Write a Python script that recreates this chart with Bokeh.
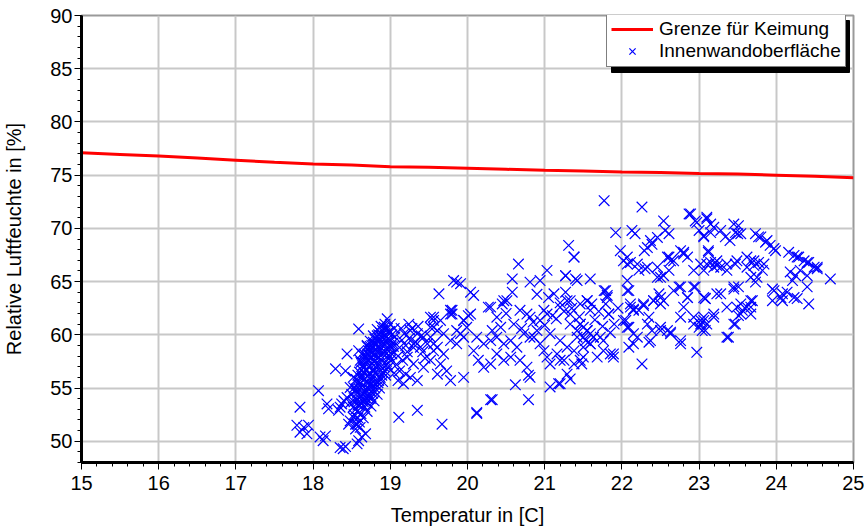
from bokeh.plotting import figure
from bokeh.models import SingleIntervalTicker, Range1d, Legend, LegendItem, BoxAnnotation
from bokeh.embed import file_html
from bokeh.resources import INLINE

# ---- data ----
limit_temp = [15.0, 15.5, 16.0, 16.5, 17.0, 17.5, 18.0, 18.5, 19.0, 19.5, 20.0,
              20.5, 21.0, 21.5, 22.0, 22.5, 23.0, 23.5, 24.0, 24.5, 25.0]
limit_rh = [77.1, 76.95, 76.8, 76.6, 76.4, 76.2, 76.05, 75.95, 75.8, 75.75, 75.65,
            75.55, 75.45, 75.4, 75.3, 75.25, 75.15, 75.1, 75.0, 74.9, 74.75]

# (temperature, relative humidity) of the inner wall surface
surface_tail = [
    (17.83, 53.2), (18.07, 54.75), (17.79, 51.5), (17.88, 51.3), (17.83, 50.85), (17.92, 50.7),
    (17.94, 51.5), (18.09, 50.4), (18.13, 50.05), (18.16, 50.5), (18.35, 49.4), (18.39, 49.3),
    (18.42, 49.5), (18.57, 49.75), (18.59, 50.05), (18.68, 50.7), (18.63, 50.4), (18.18, 53.5),
    (18.2, 53.05), (18.35, 53.2), (18.33, 52.9), (18.44, 58.2), (18.29, 56.8), (18.42, 56.6),
    (18.48, 51.9), (18.52, 52.25), (18.57, 51.6), (18.61, 51.3), (18.55, 51.15), (18.46, 51.6),
    (18.4, 53.8), (18.44, 54.1), (18.37, 53.5), (18.52, 56.0), (18.48, 55.05), (18.55, 54.75),
    (18.59, 58.5), (18.63, 58.2), (18.61, 57.6), (18.59, 60.55), (18.7, 59.0), (18.96, 61.5),
]

surface_core = [
    (18.55, 53.0), (18.6, 53.4), (18.58, 53.9), (18.62, 54.3), (18.65, 53.7), (18.68, 54.6),
    (18.6, 54.9), (18.64, 55.2), (18.7, 55.0), (18.72, 55.5), (18.66, 55.8), (18.7, 56.1),
    (18.75, 55.9), (18.74, 56.4), (18.68, 56.7), (18.72, 57.0), (18.78, 56.8), (18.77, 57.3),
    (18.7, 57.6), (18.75, 57.8), (18.8, 57.6), (18.82, 58.0), (18.76, 58.3), (18.8, 58.6),
    (18.85, 58.4), (18.86, 58.9), (18.8, 59.1), (18.84, 59.4), (18.9, 59.2), (18.92, 59.6),
    (18.88, 59.9), (18.95, 59.8), (18.97, 60.2), (18.93, 60.0), (19.0, 59.5), (18.98, 59.0),
    (18.94, 58.7), (18.9, 58.2), (18.88, 57.7), (18.85, 57.3), (18.82, 56.9), (18.8, 56.4),
    (18.78, 55.9), (18.76, 55.4), (18.73, 54.9), (18.7, 54.3), (18.66, 53.9), (18.63, 53.5),
    (18.57, 52.8), (18.52, 53.2), (18.54, 54.0), (18.57, 54.5), (18.6, 55.6), (18.63, 56.1),
    (18.66, 56.4), (18.64, 57.1), (18.68, 57.9), (18.72, 58.5), (18.76, 59.0), (18.8, 59.6),
    (18.85, 60.0), (18.9, 60.4), (18.96, 60.6), (19.02, 60.0), (19.03, 59.2), (19.0, 58.6),
    (18.98, 58.1), (18.95, 57.5), (18.92, 57.0), (18.9, 56.5), (18.87, 56.0), (18.84, 55.5),
    (18.8, 55.0), (18.77, 54.5), (18.74, 54.0), (18.7, 53.6), (18.67, 53.2), (18.62, 52.6),
    (18.58, 52.2), (18.53, 52.5), (18.48, 53.6), (18.5, 54.4), (18.53, 55.0), (18.56, 55.8),
    (18.6, 56.5), (18.62, 57.4), (18.66, 58.2), (18.7, 58.9), (18.74, 59.4), (18.78, 59.9),
    (18.83, 60.5), (18.88, 60.8), (18.93, 61.0), (19.0, 61.0), (19.05, 60.6), (19.06, 59.8),
    (19.04, 58.9), (19.02, 58.2), (19.0, 57.6), (18.97, 56.9), (18.94, 56.2), (18.9, 55.6),
    (18.86, 55.0), (18.83, 54.4), (18.79, 53.8), (18.75, 53.3), (18.7, 52.8), (18.65, 52.2),
    (18.6, 51.8), (18.55, 51.6),
    (18.58, 56.2), (18.62, 55.9), (18.65, 56.9), (18.68, 57.3), (18.72, 57.6), (18.75, 58.6),
    (18.78, 58.1), (18.82, 59.1), (18.86, 59.6), (18.9, 59.0), (18.93, 58.4), (18.96, 59.3),
    (18.99, 60.3), (18.87, 58.6), (18.84, 57.9), (18.81, 57.3), (18.79, 56.6), (18.76, 56.1),
    (18.73, 55.3), (18.69, 54.8), (18.65, 54.4), (18.62, 53.9), (18.58, 53.4), (18.53, 53.7),
    (18.56, 54.9), (18.59, 55.3), (18.63, 56.7), (18.67, 57.6), (18.71, 58.2), (18.74, 58.9),
    (18.78, 59.3), (18.83, 59.9), (18.87, 60.2), (18.92, 60.7), (18.97, 59.6), (19.01, 58.9),
    (18.99, 57.9), (18.96, 57.2), (18.93, 56.6), (18.89, 56.2), (18.85, 55.7), (18.81, 55.3),
    (18.78, 54.8), (18.74, 54.3), (18.71, 53.9),
]

surface_mid = [
    (19.08, 57.2), (19.1, 58.0), (19.12, 58.8), (19.15, 59.5), (19.18, 60.1), (19.2, 59.0),
    (19.22, 58.4), (19.25, 59.7), (19.28, 60.6), (19.3, 58.8), (19.33, 59.3), (19.12, 56.6),
    (19.16, 57.6), (19.2, 56.3), (19.1, 55.7), (19.05, 56.4), (19.14, 60.6), (19.24, 61.0),
    (19.36, 60.8), (19.4, 59.9), (19.42, 58.4), (19.45, 57.8),
    (19.26, 60.4), (19.35, 60.1), (19.43, 59.77), (19.52, 60.7), (19.56, 61.35), (19.61, 60.4),
    (19.3, 59.15), (19.39, 58.83), (19.48, 59.15), (19.56, 58.5), (19.22, 57.9), (19.3, 57.26),
    (19.43, 56.95), (19.52, 57.6), (19.61, 56.3), (19.26, 56.0), (19.35, 55.7), (19.17, 55.4),
    (19.11, 52.25), (19.35, 52.9), (19.67, 51.6), (20.12, 52.7), (20.32, 53.9),
    (19.56, 61.65), (19.78, 61.95), (19.8, 62.3), (19.95, 61.35), (20.01, 61.8), (20.3, 62.6),
    (20.66, 66.65), (21.38, 67.3), (19.82, 65.1), (19.91, 64.8), (19.86, 64.95), (19.63, 63.85),
    (20.08, 63.7), (20.04, 64.0), (20.58, 65.25), (20.58, 64.0), (20.51, 63.2), (20.81, 64.95),
    (20.94, 65.1), (21.03, 66.05), (21.27, 65.55), (21.42, 65.1), (21.12, 63.85), (21.27, 64.0),
    (20.27, 62.6), (20.47, 63.2), (20.45, 62.9), (20.68, 62.3), (20.77, 61.95), (20.81, 61.65),
    (20.99, 62.3), (21.03, 61.95), (21.1, 61.8), (20.94, 61.35), (21.33, 63.2), (21.46, 62.9),
    (21.55, 63.2), (20.38, 61.65), (20.43, 60.7), (20.32, 60.4),
    (19.78, 62.3), (19.8, 61.95), (20.04, 61.95), (19.95, 61.35), (19.99, 60.7), (19.91, 60.1),
    (19.86, 60.4), (19.65, 61.35), (19.56, 60.7), (19.52, 61.65),
    (19.61, 58.83), (19.69, 58.2), (19.65, 57.26), (19.73, 56.6), (19.78, 55.7), (19.95, 56.0),
    (20.08, 58.5), (20.14, 57.6), (20.21, 56.95), (20.3, 57.26), (20.38, 58.2), (20.47, 57.6),
    (20.56, 57.9), (20.64, 58.83), (20.68, 57.6), (20.77, 56.95), (20.81, 56.0), (20.86, 59.77),
    (20.94, 59.15), (20.99, 58.5), (21.03, 57.9), (21.07, 57.26), (21.16, 58.2), (21.25, 57.6),
    (21.38, 58.5), (21.46, 57.6), (21.5, 59.77), (21.55, 60.4), (21.59, 59.15),
    (20.62, 55.3), (20.79, 56.2), (21.07, 55.1), (21.18, 55.4), (21.33, 55.85), (20.3, 53.9),
    (20.12, 52.6), (20.79, 53.9), (21.2, 55.4),
    (19.52, 59.77), (19.56, 59.15), (19.69, 60.1), (19.78, 59.45), (19.86, 59.15), (19.95, 59.77),
    (20.12, 59.77), (20.21, 59.15), (20.3, 59.45), (20.38, 59.77), (20.47, 59.15), (20.56, 59.45),
    (20.73, 60.1), (20.81, 59.77), (20.9, 60.4), (21.07, 60.1), (21.2, 59.45), (21.33, 61.0),
    (21.42, 60.4),
    (20.6, 61.0), (20.7, 60.6), (20.85, 61.2), (21.0, 60.9), (21.15, 61.5), (21.25, 62.2),
    (21.35, 62.5), (21.45, 61.7), (20.5, 62.0), (21.2, 63.0), (21.05, 63.5), (20.9, 63.8),
    (21.31, 68.4), (21.38, 67.3), (21.27, 65.55), (21.4, 65.25),
    (21.2, 62.6), (21.29, 63.2), (21.33, 61.95), (21.46, 61.0), (21.42, 59.77), (21.29, 58.83),
    (21.5, 58.83), (21.2, 57.6), (21.38, 57.26), (21.29, 56.3),
]

surface_right = [
    (21.77, 72.6), (22.26, 72.0), (21.92, 69.6), (22.13, 69.8), (22.17, 69.5), (21.98, 67.9),
    (22.07, 67.3), (22.11, 66.8), (22.37, 68.85), (22.46, 69.15), (22.54, 70.7), (22.56, 69.8),
    (22.61, 69.5), (22.29, 67.9), (22.33, 68.2), (22.39, 68.5), (22.22, 66.05), (22.3, 66.2),
    (22.46, 66.35), (22.5, 65.4), (22.54, 65.55), (22.61, 67.3), (22.63, 66.95), (22.61, 66.05),
    (22.07, 65.1), (22.09, 64.15), (21.59, 65.25), (21.79, 64.15), (21.81, 63.5), (21.55, 63.2),
    (21.61, 62.9), (21.59, 62.3), (21.83, 61.95), (21.79, 62.9), (22.11, 62.9), (22.15, 62.4),
    (22.22, 62.3), (22.28, 62.75), (22.35, 61.65), (22.41, 63.2), (22.48, 63.85), (22.5, 62.9),
    (22.54, 63.2), (22.05, 61.35), (22.09, 60.7), (22.15, 60.1), (22.33, 61.0), (22.39, 60.4),
    (22.5, 60.7), (22.59, 60.4), (22.63, 60.25), (22.09, 58.83), (22.15, 59.15), (22.35, 59.3),
    (22.26, 57.26), (22.76, 59.15), (22.74, 64.5), (22.85, 63.5), (22.8, 62.6), (22.76, 61.65),
    (22.95, 64.5), (23.08, 63.4), (22.97, 58.35), (22.93, 61.65), (23.02, 61.0), (23.08, 60.4),
    (23.0, 60.7), (23.06, 61.35),
    (22.87, 71.35), (22.95, 70.7), (23.0, 69.8), (23.06, 69.3), (23.1, 71.05), (23.15, 70.4),
    (22.76, 67.9), (22.8, 67.6), (22.85, 67.3), (22.93, 66.05), (23.06, 66.05), (23.12, 67.9),
    (23.19, 66.35), (23.23, 66.95),
    (21.46, 61.0), (21.5, 60.7), (21.55, 60.4), (21.59, 60.1), (21.63, 59.77), (21.53, 59.45),
    (21.59, 59.15), (21.72, 59.77), (21.76, 58.5), (21.85, 58.2), (21.89, 57.9), (21.68, 57.9),
    (21.5, 57.9), (21.48, 57.26),
    (23.1, 70.9), (23.19, 70.1), (23.28, 69.8), (23.06, 69.2), (23.15, 69.6), (23.34, 69.2),
    (23.4, 68.85), (23.47, 69.6), (23.51, 70.25), (23.54, 69.5), (23.73, 69.5), (23.77, 69.2),
    (23.86, 68.7), (23.92, 68.4), (23.97, 68.1), (23.99, 67.9), (24.16, 67.75), (24.23, 67.45),
    (24.29, 67.3), (24.36, 66.95), (24.42, 66.8), (24.53, 66.2), (24.7, 65.25),
    (23.12, 67.75), (23.1, 66.65), (23.21, 66.8), (23.28, 66.35), (23.36, 66.05), (23.47, 66.65),
    (23.62, 67.3), (23.67, 66.95), (23.71, 66.5), (23.77, 66.8), (23.82, 66.05), (23.67, 65.4),
    (23.73, 64.95), (24.18, 65.9), (24.25, 65.55), (24.31, 66.05), (24.4, 65.55), (24.49, 66.35),
    (24.21, 65.1), (24.4, 64.5), (23.95, 64.3), (24.08, 63.85), (24.14, 64.0), (24.27, 63.4),
    (23.95, 63.2), (24.08, 63.2), (24.42, 62.9), (23.28, 63.85), (23.45, 64.3), (23.51, 64.5),
    (23.08, 63.4), (23.36, 62.6), (23.49, 62.6), (23.56, 62.3), (23.62, 62.6), (23.69, 63.2),
    (23.67, 61.95), (23.51, 61.8), (23.47, 61.0), (23.06, 61.65), (23.1, 61.0), (23.04, 60.4),
    (23.19, 61.65), (23.38, 59.77),
    (22.89, 71.35), (22.97, 70.55), (23.45, 70.4), (23.5, 69.5), (23.8, 69.2), (23.88, 68.85),
    (24.27, 67.3), (24.4, 66.8), (24.53, 66.35),
    (22.02, 66.95), (22.07, 66.65), (22.2, 66.65), (22.33, 66.35), (22.46, 65.4), (22.59, 67.3),
    (22.67, 66.95), (22.8, 67.75), (23.02, 66.65), (23.15, 66.8), (23.23, 66.5), (23.36, 66.65),
    (23.49, 66.95), (23.62, 66.35), (23.71, 66.95), (23.84, 66.65), (23.75, 65.4),
    (22.07, 64.15), (22.11, 62.6), (22.15, 62.3), (22.28, 62.9), (22.41, 63.2), (22.5, 63.5),
    (22.67, 64.15), (22.76, 64.5), (22.85, 63.5), (22.93, 64.5), (23.06, 63.5), (23.23, 63.85),
    (23.45, 64.5), (23.54, 62.9), (23.67, 63.2), (23.97, 64.15), (24.06, 63.5), (24.23, 63.5),
    (22.02, 61.35), (22.07, 60.7), (22.2, 59.77), (22.37, 59.45), (22.5, 60.4), (22.63, 60.1),
    (22.76, 59.45), (22.93, 61.0), (23.02, 61.35), (23.19, 61.95), (23.36, 59.77), (23.45, 61.0),
    (23.54, 61.95), (23.67, 62.6),
    (21.65, 61.4), (21.7, 62.2), (21.75, 60.8), (21.85, 60.2), (21.9, 61.0), (21.95, 62.5),
    (21.77, 64.15), (21.81, 63.7), (21.83, 61.95), (21.63, 59.77), (21.76, 59.45), (21.89, 58.2),
]

FONT = "Liberation Sans"

points = surface_tail + surface_core + surface_mid + surface_right
surf_t = [pt[0] for pt in points]
surf_rh = [pt[1] for pt in points]

BORDER_L, BORDER_R, BORDER_T, BORDER_B = 81, 11, 15, 70
FIG_W, FIG_H = 864, 532
FRAME_H = FIG_H - BORDER_T - BORDER_B

p = figure(width=FIG_W, height=FIG_H, output_backend="svg", toolbar_location=None,
           x_range=Range1d(15, 25), y_range=Range1d(48, 90),
           min_border_left=BORDER_L, min_border_right=BORDER_R,
           min_border_top=BORDER_T, min_border_bottom=BORDER_B)
p.background_fill_color = "white"
p.border_fill_color = "white"
p.outline_line_color = "#9a9a9a"
p.outline_line_width = 2

line_r = p.line(limit_temp, limit_rh, line_color="#ff0000", line_width=3)
sc_r = p.scatter(surf_t, surf_rh, marker="x", size=15, line_color="#0000ff", line_width=1.2)

p.xaxis.ticker = SingleIntervalTicker(interval=1, num_minor_ticks=5)
p.yaxis.ticker = SingleIntervalTicker(interval=5, num_minor_ticks=5)
p.xaxis.axis_label = "Temperatur in [C]"
p.yaxis.axis_label = "Relative Luftfeuchte in [%]"

for ax in (p.xaxis[0], p.yaxis[0]):
    ax.axis_line_width = 3
    ax.axis_line_color = "black"
    ax.major_tick_out = 7
    ax.major_tick_in = 0
    ax.minor_tick_out = 4
    ax.minor_tick_in = 0
    ax.major_tick_line_color = "black"
    ax.minor_tick_line_color = "black"
    ax.major_label_text_font = FONT
    ax.major_label_text_font_size = "20px"
    ax.major_label_text_color = "black"
    ax.axis_label_text_font = FONT
    ax.axis_label_text_font_size = "20px"
    ax.axis_label_text_font_style = "normal"
    ax.axis_label_text_color = "black"

p.xaxis.major_label_standoff = 6
p.xaxis.axis_label_standoff = 11
p.yaxis.major_label_standoff = 2
p.yaxis.axis_label_standoff = 22

p.xgrid.grid_line_color = "#c8c8c8"
p.ygrid.grid_line_color = "#c8c8c8"
p.xgrid.grid_line_width = 2
p.ygrid.grid_line_width = 2

# legend (with a drop shadow drawn as a screen-space box behind it)
LEG_PAD = 4
LEG_ROW = 22
LEG_SPACING = 0
LEG_GLYPH_W = 42
LEG_STANDOFF = 6
LEG_TEXT_W = 182
leg_w = 2 * LEG_PAD + LEG_GLYPH_W + LEG_STANDOFF + LEG_TEXT_W
leg_h = 2 * LEG_PAD + 2 * LEG_ROW + LEG_SPACING
leg_left = 525
leg_bottom = FRAME_H - leg_h

shadow = BoxAnnotation(left=leg_left + 5, right=leg_left + 5 + leg_w,
                       bottom=leg_bottom - 5, top=leg_bottom - 5 + leg_h,
                       left_units="screen", right_units="screen",
                       bottom_units="screen", top_units="screen",
                       fill_color="black", fill_alpha=1.0, line_color="black", line_alpha=1.0)
p.add_layout(shadow)

legend = Legend(items=[LegendItem(label="Grenze für Keimung", renderers=[line_r]),
                       LegendItem(label="Innenwandoberfläche", renderers=[sc_r])],
                location=(leg_left, leg_bottom), margin=0, padding=LEG_PAD, spacing=LEG_SPACING,
                glyph_height=LEG_ROW, glyph_width=LEG_GLYPH_W, label_height=LEG_ROW,
                label_standoff=LEG_STANDOFF,
                label_text_font=FONT, label_text_font_size="19px", label_text_color="black",
                border_line_color="black", border_line_width=1,
                background_fill_color="white", background_fill_alpha=1.0)
p.add_layout(legend)

open("out.html", "w").write(file_html(p, INLINE))
